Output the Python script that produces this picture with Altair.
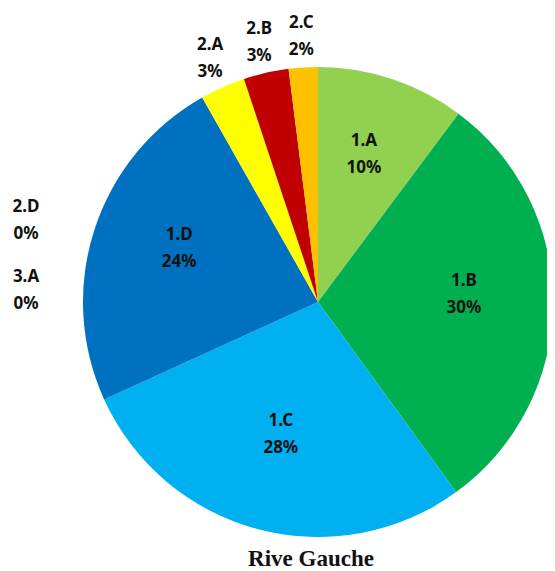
import altair as alt
import pandas as pd

categories = ["1.A", "1.B", "1.C", "1.D", "2.A", "2.B", "2.C"]
values = [10.2, 29.8, 28.2, 23.6, 3.1, 3.1, 2.0]
pct_labels = ["10%", "30%", "28%", "24%", "3%", "3%", "2%"]
colors = ["#92D050", "#00B050", "#00B0F0", "#0070C0", "#FFFF00", "#C00000", "#FFC000"]
outer_flags = [False, False, False, False, True, True, True]
zero_categories = ["2.D", "3.A"]
zero_labels = ["0%", "0%"]
title_text = "Rive Gauche"

df = pd.DataFrame({
    "cat": categories,
    "value": values,
    "idx": list(range(len(categories))),
    "label": [f"{c}\n{p}" for c, p in zip(categories, pct_labels)],
    "outer": outer_flags,
})
df["inner_label"] = [("" if o else l) for o, l in zip(df["outer"], df["label"])]
df["outer_label"] = [(l if o else "") for o, l in zip(df["outer"], df["label"])]

CX, CY = 310, 294
R = 235

base = alt.Chart(df).encode(
    theta=alt.Theta("value:Q", stack=True, scale=alt.Scale(range=[0, 6.2832])),
    order=alt.Order("idx:Q"),
    x=alt.value(CX),
    y=alt.value(CY),
)

arcs = base.mark_arc(outerRadius=R).encode(
    color=alt.Color("cat:N", scale=alt.Scale(domain=categories, range=colors), legend=None)
)

font = "Noto Sans"
txt = dict(font=font, fontSize=17, fontWeight="bold", lineBreak="\n",
           lineHeight=27, color="#111111")

inner = base.mark_text(radius=146, dy=-22, **txt).encode(text="inner_label:N")
outer = base.mark_text(radius=266, dy=-14, **txt).encode(text="outer_label:N")

zdf = pd.DataFrame({
    "label": [f"{c}\n{p}" for c, p in zip(zero_categories, zero_labels)],
    "k": [0, 1],
})
zero = alt.Chart(zdf).mark_text(dy=-13, **txt).encode(
    text="label:N",
    x=alt.value(18),
    y=alt.Y("k:Q", scale=alt.Scale(domain=[0, 1], range=[212, 282]), axis=None),
)

tdf = pd.DataFrame({"t": [title_text]})
title = alt.Chart(tdf).mark_text(font="Liberation Serif", fontSize=23, fontWeight="bold",
                                 color="#111111", baseline="alphabetic").encode(
    text="t:N", x=alt.value(303), y=alt.value(558)
)

chart = alt.layer(arcs, inner, outer, zero, title).properties(
    width=539, height=563, padding=0, autosize=alt.AutoSizeParams(type="none")
).configure_view(stroke=None).resolve_scale(y="independent")

chart.save("out.html", embed_options={"renderer": "svg", "actions": False})
